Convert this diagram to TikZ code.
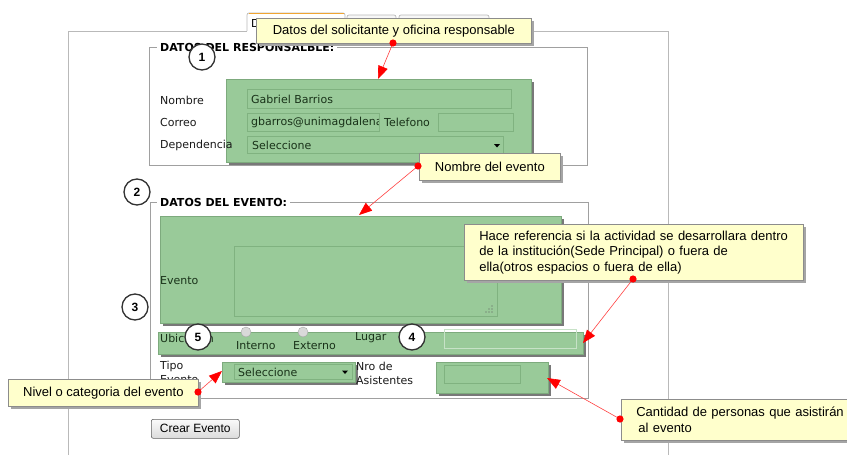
\documentclass[tikz,border=0pt]{standalone}
\usepackage{fontspec}
\setmainfont{DejaVu Sans}
\newfontfamily\callfont{Liberation Sans}
\usetikzlibrary{arrows.meta,shadows}
\definecolor{gfill}{RGB}{153,202,153}
\definecolor{gbord}{RGB}{125,170,125}
\definecolor{gfield}{RGB}{128,178,128}
\definecolor{gshad}{RGB}{120,120,120}
\definecolor{gtext}{RGB}{25,50,25}
\definecolor{cfill}{RGB}{255,255,204}
\definecolor{cbord}{RGB}{140,140,140}
\definecolor{cshad}{RGB}{165,165,165}
\definecolor{panel}{RGB}{185,185,185}
\definecolor{fsline}{RGB}{160,160,160}
\definecolor{labtxt}{RGB}{25,25,25}
\definecolor{circb}{RGB}{50,50,50}
\definecolor{tabor}{RGB}{240,165,50}
\begin{document}
\begin{tikzpicture}[x=1pt,y=-1pt,
  greenbox/.style={draw=gbord, fill=gfill, line width=0.8pt, anchor=north west, inner sep=0,
    drop shadow={shadow xshift=3pt, shadow yshift=-3pt, fill=gshad, opacity=1}},
  fieldbox/.style={draw=gfield, line width=0.6pt, anchor=north west, inner sep=0},
  callout/.style={draw=cbord, fill=cfill, line width=0.7pt, anchor=north west, inner sep=0,
    font=\callfont\fontsize{13}{15.5}\selectfont, text=black, align=center,
    drop shadow={shadow xshift=3pt, shadow yshift=-3pt, fill=cshad, opacity=1}},
  lbl/.style={anchor=west, inner sep=0, font=\fontsize{11}{13}\selectfont, text=labtxt},
  gtxt/.style={anchor=west, inner sep=0, font=\fontsize{11}{13}\selectfont, text=gtext},
  legendtxt/.style={anchor=west, fill=white, inner xsep=3pt, inner ysep=1pt,
    font=\bfseries\fontsize{11}{13}\selectfont, text=black},
  numc/.style={circle, draw=circb, line width=1.3pt, fill=white, minimum size=26pt, inner sep=0,
    font=\callfont\bfseries\fontsize{12}{14}\selectfont, text=black},
  redarrow/.style={draw=red!75, line width=0.6pt, -{Triangle[length=13pt,width=10pt,color=red]}},
  reddot/.style={fill=red},
  tabshape/.style={draw=panel, line width=0.7pt, rounded corners=2pt},
  fs/.style={draw=fsline, line width=0.8pt},
  btn/.style={draw=gray!75!black, line width=0.6pt, rounded corners=2pt, top color=gray!4, bottom color=gray!28,
    anchor=north west, inner sep=0, minimum width=88pt, minimum height=19pt,
    font=\callfont\fontsize{12}{14}\selectfont, text=black}
]
\useasboundingbox (0,0) rectangle (847,455);

% outer panel
\draw[draw=panel, line width=0.8pt] (68,455) -- (68,31) -- (247,31);
\draw[draw=panel, line width=0.8pt] (345,31) -- (668,31) -- (668,455);

% tabs
\path[tabshape, fill=white] (247,31) |- (345,13) -- (345,31);
\draw[draw=tabor, line width=1.4pt] (248.5,13.5) -- (343.5,13.5);
\path[tabshape, fill=gray!6] (347,31) |- (396,15) -- (396,31);
\path[tabshape, fill=gray!6] (399,31) |- (489,15) -- (489,31);
\node[lbl, text=black] (tabd) at (251,23) {D};

% fieldset 1
\draw[fs] (149,47) rectangle (587,165);
\node[legendtxt] (lg1) at (157,47) {DATOS DEL RESPONSALBLE:};

% green box 1
\node[greenbox, minimum width=305pt, minimum height=83pt] (g1) at (226,79) {};
\node[fieldbox, minimum width=264pt, minimum height=19pt] (fnombre) at (247,89) {};
\node[gtxt] (tnombre) at (251,99) {Gabriel Barrios};
\node[fieldbox, minimum width=132pt, minimum height=18pt] (fcorreo) at (247,113) {};
\begin{scope}
  \clip (247.5,113) rectangle (378.5,131);
  \node[gtxt] (tcorreo) at (251,122) {gbarros@unimagdalena};
\end{scope}
\node[gtxt] (ttel) at (384,122) {Telefono};
\node[fieldbox, minimum width=75pt, minimum height=18pt] (ftel) at (438,113) {};
\node[fieldbox, minimum width=256pt, minimum height=17pt] (fdep) at (247,136) {};
\node[gtxt] (tdep) at (252,145) {Seleccione};
\fill[black] (494,144) -- (500,144) -- (497,147.5) -- cycle;

\node[lbl] (lnombre) at (160,100) {Nombre};
\node[lbl] (lcorreo) at (160,122) {Correo};
\node[lbl] (ldep) at (160,145) {Dependencia};

% fieldset 2
\draw[fs] (150,202) rectangle (588,398);
\node[legendtxt] (lg2) at (157,202) {DATOS DEL EVENTO:};

% Evento box
\node[greenbox, minimum width=401pt, minimum height=107pt] (gev) at (160,216) {};
\node[fieldbox, minimum width=263pt, minimum height=70pt] (fev) at (234,246) {};
\foreach \p in {(486,312),(489,312),(492,312),(489,309),(492,309),(492,306)}
  \fill[gray!70!black] \p circle (0.55);
\node[gtxt] (lev) at (160,281) {Evento};

% Ubicacion bar
\node[greenbox, minimum width=425pt, minimum height=22pt] (gub) at (158,332) {};
\node[fieldbox, draw=gfill!55!white, minimum width=132pt, minimum height=19pt] (flugar) at (444,329) {};
\node[gtxt] (lub) at (160,338) {Ubicación};
\draw[gray!70, fill=gray!30] (246,332) circle (5);
\draw[gray!70, fill=gray!30] (303,332) circle (5);
\node[gtxt] (lint) at (236,346) {Interno};
\node[gtxt] (lext) at (293,346) {Externo};
\node[gtxt] (llug) at (355,338) {Lugar};

% Tipo evento
\node[lbl] (ltipo1) at (160,366) {Tipo};
\node[lbl] (ltipo2) at (160,380) {Evento};
\node[greenbox, minimum width=133pt, minimum height=20pt] (gtipo) at (222,362) {};
\node[fieldbox, minimum width=118pt, minimum height=15pt] (ftipo) at (234,364) {};
\node[gtxt] (ttipo) at (238,372) {Seleccione};
\fill[black] (342,370.5) -- (348,370.5) -- (345,374) -- cycle;

% Asistentes
\node[lbl] (lnro1) at (356,366) {Nro de};
\node[lbl] (lnro2) at (356,380) {Asistentes};
\node[greenbox, minimum width=112pt, minimum height=31pt] (gasis) at (436,362) {};
\node[fieldbox, minimum width=76pt, minimum height=18pt] (fasis) at (444,365) {};

% button
\node[btn] (bcrear) at (151,419) {Crear Evento};

% number circles
\node[numc] (n1) at (202,57) {1};
\node[numc] (n2) at (137,192) {2};
\node[numc] (n3) at (135,307) {3};
\node[numc] (n5) at (198,337) {5};
\node[numc] (n4) at (412,337) {4};

% callouts
\node[callout, minimum width=275pt, minimum height=25pt] (c1) at (256,18)
  {Datos del solicitante y oficina responsable};
\node[callout, minimum width=141pt, minimum height=27pt] (c2) at (419,153)
  {Nombre del evento};
\node[callout, minimum width=190pt, minimum height=27pt] (c3) at (8,379)
  {Nivel o categoria del evento};
\node[callout, inner xsep=15pt, text width=309pt, align=left, minimum height=56pt] (c4) at (464,224)
  {Hace referencia si la actividad se desarrollara dentro\\de la institución(Sede Principal) o fuera de\\ella(otros espacios o fuera de ella)};
\node[callout, inner xsep=15pt, text width=220pt, align=left, minimum height=41pt] (c5) at (621,399)
  {Cantidad de personas que asistirán\\\hspace{2pt}al evento};

% connectors
\coordinate (d1) at (393,43);  \coordinate (t1) at (378,79);
\coordinate (d2) at (418,166); \coordinate (t2) at (359,215);
\coordinate (d3) at (198,392); \coordinate (t3) at (222,371);
\coordinate (d4) at (633,279); \coordinate (t4) at (583,343);
\coordinate (d5) at (620,419); \coordinate (t5) at (547,378);
\foreach \i in {1,...,5} {
  \draw[redarrow] (d\i) -- (t\i);
  \fill[reddot] (d\i) circle (3.6);
}
\end{tikzpicture}
\end{document}
